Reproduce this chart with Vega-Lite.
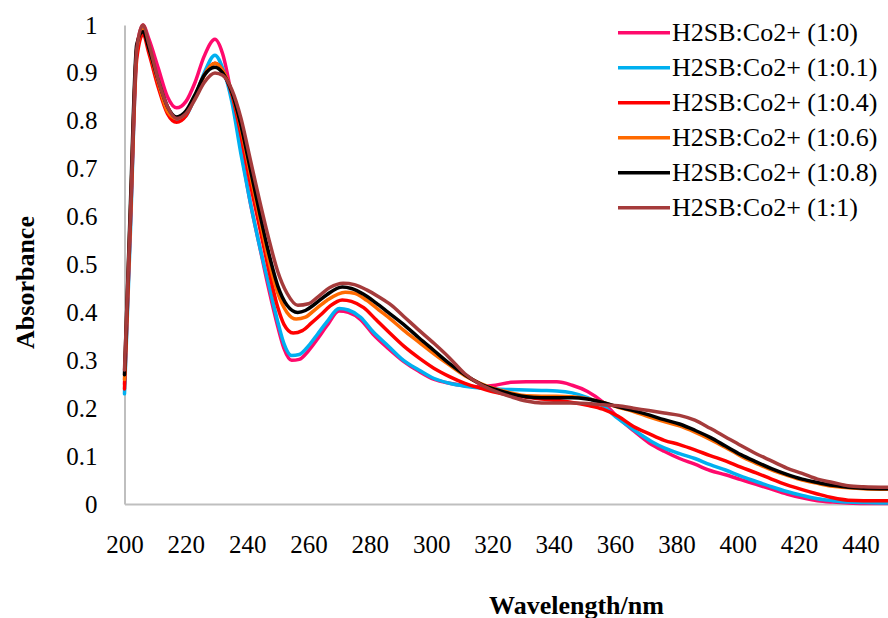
{
"$schema":"https://vega.github.io/schema/vega-lite/v6.json",
"width":763.5,"height":479,
"autosize":{"type":"none"},
"padding":{"left":124.5,"top":25,"right":0,"bottom":114},
"background":"white",
"config":{"view":{"stroke":null}},
"datasets":{"spectra":[
{"c":"1:0","w":200,"a":0.25},{"c":"1:0","w":202,"a":0.6},{"c":"1:0","w":204,"a":0.95},{"c":"1:0","w":206,"a":1.0},{"c":"1:0","w":208,"a":0.97},{"c":"1:0","w":211,"a":0.91},{"c":"1:0","w":214,"a":0.85},{"c":"1:0","w":217,"a":0.827},{"c":"1:0","w":220,"a":0.84},{"c":"1:0","w":223,"a":0.88},{"c":"1:0","w":226,"a":0.935},{"c":"1:0","w":229.5,"a":0.97},{"c":"1:0","w":232,"a":0.94},{"c":"1:0","w":235,"a":0.85},{"c":"1:0","w":238,"a":0.74},{"c":"1:0","w":241,"a":0.63},{"c":"1:0","w":244,"a":0.54},{"c":"1:0","w":247,"a":0.45},{"c":"1:0","w":250,"a":0.37},{"c":"1:0","w":252,"a":0.325},{"c":"1:0","w":254.5,"a":0.3},{"c":"1:0","w":257,"a":0.302},{"c":"1:0","w":260,"a":0.32},{"c":"1:0","w":263,"a":0.345},{"c":"1:0","w":266,"a":0.372},{"c":"1:0","w":270,"a":0.403},{"c":"1:0","w":273,"a":0.4},{"c":"1:0","w":277,"a":0.385},{"c":"1:0","w":281,"a":0.355},{"c":"1:0","w":286,"a":0.325},{"c":"1:0","w":291,"a":0.298},{"c":"1:0","w":296,"a":0.277},{"c":"1:0","w":301,"a":0.26},{"c":"1:0","w":306,"a":0.252},{"c":"1:0","w":311,"a":0.247},{"c":"1:0","w":316,"a":0.245},{"c":"1:0","w":321,"a":0.248},{"c":"1:0","w":326,"a":0.254},{"c":"1:0","w":331,"a":0.255},{"c":"1:0","w":336,"a":0.255},{"c":"1:0","w":341,"a":0.255},{"c":"1:0","w":346,"a":0.248},{"c":"1:0","w":351,"a":0.235},{"c":"1:0","w":356,"a":0.213},{"c":"1:0","w":361,"a":0.18},{"c":"1:0","w":366,"a":0.153},{"c":"1:0","w":371,"a":0.128},{"c":"1:0","w":376,"a":0.11},{"c":"1:0","w":381,"a":0.095},{"c":"1:0","w":386,"a":0.083},{"c":"1:0","w":391,"a":0.07},{"c":"1:0","w":396,"a":0.061},{"c":"1:0","w":401,"a":0.051},{"c":"1:0","w":406,"a":0.041},{"c":"1:0","w":411,"a":0.031},{"c":"1:0","w":416,"a":0.021},{"c":"1:0","w":421,"a":0.013},{"c":"1:0","w":426,"a":0.007},{"c":"1:0","w":431,"a":0.004},{"c":"1:0","w":436,"a":0.002},{"c":"1:0","w":441,"a":0.001},{"c":"1:0","w":449,"a":0.001},
{"c":"1:0.1","w":200,"a":0.23},{"c":"1:0.1","w":202,"a":0.58},{"c":"1:0.1","w":204,"a":0.94},{"c":"1:0.1","w":206,"a":0.99},{"c":"1:0.1","w":208,"a":0.95},{"c":"1:0.1","w":211,"a":0.88},{"c":"1:0.1","w":214,"a":0.82},{"c":"1:0.1","w":217,"a":0.8},{"c":"1:0.1","w":220,"a":0.81},{"c":"1:0.1","w":223,"a":0.85},{"c":"1:0.1","w":226,"a":0.9},{"c":"1:0.1","w":229.5,"a":0.937},{"c":"1:0.1","w":232,"a":0.91},{"c":"1:0.1","w":235,"a":0.84},{"c":"1:0.1","w":238,"a":0.73},{"c":"1:0.1","w":241,"a":0.63},{"c":"1:0.1","w":244,"a":0.54},{"c":"1:0.1","w":247,"a":0.46},{"c":"1:0.1","w":250,"a":0.38},{"c":"1:0.1","w":252,"a":0.335},{"c":"1:0.1","w":254.5,"a":0.31},{"c":"1:0.1","w":257,"a":0.312},{"c":"1:0.1","w":260,"a":0.33},{"c":"1:0.1","w":263,"a":0.355},{"c":"1:0.1","w":266,"a":0.38},{"c":"1:0.1","w":270,"a":0.408},{"c":"1:0.1","w":273,"a":0.405},{"c":"1:0.1","w":277,"a":0.39},{"c":"1:0.1","w":281,"a":0.36},{"c":"1:0.1","w":286,"a":0.33},{"c":"1:0.1","w":291,"a":0.3},{"c":"1:0.1","w":296,"a":0.28},{"c":"1:0.1","w":301,"a":0.262},{"c":"1:0.1","w":306,"a":0.252},{"c":"1:0.1","w":311,"a":0.246},{"c":"1:0.1","w":316,"a":0.242},{"c":"1:0.1","w":321,"a":0.24},{"c":"1:0.1","w":326,"a":0.239},{"c":"1:0.1","w":331,"a":0.238},{"c":"1:0.1","w":336,"a":0.237},{"c":"1:0.1","w":341,"a":0.236},{"c":"1:0.1","w":346,"a":0.232},{"c":"1:0.1","w":351,"a":0.222},{"c":"1:0.1","w":356,"a":0.205},{"c":"1:0.1","w":361,"a":0.178},{"c":"1:0.1","w":366,"a":0.155},{"c":"1:0.1","w":372,"a":0.13},{"c":"1:0.1","w":376,"a":0.117},{"c":"1:0.1","w":381,"a":0.105},{"c":"1:0.1","w":386,"a":0.095},{"c":"1:0.1","w":391,"a":0.082},{"c":"1:0.1","w":396,"a":0.071},{"c":"1:0.1","w":401,"a":0.058},{"c":"1:0.1","w":406,"a":0.047},{"c":"1:0.1","w":411,"a":0.036},{"c":"1:0.1","w":416,"a":0.026},{"c":"1:0.1","w":421,"a":0.018},{"c":"1:0.1","w":426,"a":0.011},{"c":"1:0.1","w":431,"a":0.007},{"c":"1:0.1","w":436,"a":0.004},{"c":"1:0.1","w":441,"a":0.003},{"c":"1:0.1","w":449,"a":0.002},
{"c":"1:0.4","w":200,"a":0.24},{"c":"1:0.4","w":202,"a":0.6},{"c":"1:0.4","w":204,"a":0.93},{"c":"1:0.4","w":206,"a":0.98},{"c":"1:0.4","w":208,"a":0.94},{"c":"1:0.4","w":211,"a":0.87},{"c":"1:0.4","w":214,"a":0.815},{"c":"1:0.4","w":217,"a":0.797},{"c":"1:0.4","w":220,"a":0.81},{"c":"1:0.4","w":223,"a":0.85},{"c":"1:0.4","w":226,"a":0.895},{"c":"1:0.4","w":229.5,"a":0.92},{"c":"1:0.4","w":232,"a":0.905},{"c":"1:0.4","w":235,"a":0.855},{"c":"1:0.4","w":238,"a":0.77},{"c":"1:0.4","w":241,"a":0.67},{"c":"1:0.4","w":244,"a":0.58},{"c":"1:0.4","w":247,"a":0.49},{"c":"1:0.4","w":250,"a":0.41},{"c":"1:0.4","w":252,"a":0.375},{"c":"1:0.4","w":255,"a":0.357},{"c":"1:0.4","w":258,"a":0.362},{"c":"1:0.4","w":261,"a":0.378},{"c":"1:0.4","w":264,"a":0.395},{"c":"1:0.4","w":267,"a":0.413},{"c":"1:0.4","w":271,"a":0.426},{"c":"1:0.4","w":274,"a":0.423},{"c":"1:0.4","w":278,"a":0.41},{"c":"1:0.4","w":282,"a":0.385},{"c":"1:0.4","w":286,"a":0.36},{"c":"1:0.4","w":291,"a":0.33},{"c":"1:0.4","w":296,"a":0.305},{"c":"1:0.4","w":301,"a":0.283},{"c":"1:0.4","w":306,"a":0.266},{"c":"1:0.4","w":311,"a":0.252},{"c":"1:0.4","w":316,"a":0.242},{"c":"1:0.4","w":321,"a":0.233},{"c":"1:0.4","w":326,"a":0.227},{"c":"1:0.4","w":331,"a":0.223},{"c":"1:0.4","w":336,"a":0.219},{"c":"1:0.4","w":341,"a":0.216},{"c":"1:0.4","w":346,"a":0.212},{"c":"1:0.4","w":351,"a":0.206},{"c":"1:0.4","w":356,"a":0.198},{"c":"1:0.4","w":361,"a":0.183},{"c":"1:0.4","w":366,"a":0.162},{"c":"1:0.4","w":371,"a":0.147},{"c":"1:0.4","w":376,"a":0.133},{"c":"1:0.4","w":381,"a":0.124},{"c":"1:0.4","w":386,"a":0.113},{"c":"1:0.4","w":391,"a":0.101},{"c":"1:0.4","w":396,"a":0.09},{"c":"1:0.4","w":401,"a":0.077},{"c":"1:0.4","w":406,"a":0.065},{"c":"1:0.4","w":411,"a":0.052},{"c":"1:0.4","w":416,"a":0.04},{"c":"1:0.4","w":421,"a":0.03},{"c":"1:0.4","w":426,"a":0.021},{"c":"1:0.4","w":431,"a":0.013},{"c":"1:0.4","w":436,"a":0.008},{"c":"1:0.4","w":441,"a":0.007},{"c":"1:0.4","w":449,"a":0.007},
{"c":"1:0.6","w":200,"a":0.26},{"c":"1:0.6","w":202,"a":0.62},{"c":"1:0.6","w":204,"a":0.95},{"c":"1:0.6","w":206,"a":0.99},{"c":"1:0.6","w":208,"a":0.95},{"c":"1:0.6","w":211,"a":0.88},{"c":"1:0.6","w":214,"a":0.82},{"c":"1:0.6","w":217,"a":0.805},{"c":"1:0.6","w":220,"a":0.815},{"c":"1:0.6","w":223,"a":0.85},{"c":"1:0.6","w":226,"a":0.895},{"c":"1:0.6","w":229.5,"a":0.92},{"c":"1:0.6","w":232,"a":0.905},{"c":"1:0.6","w":235,"a":0.86},{"c":"1:0.6","w":238,"a":0.785},{"c":"1:0.6","w":241,"a":0.69},{"c":"1:0.6","w":244,"a":0.6},{"c":"1:0.6","w":247,"a":0.51},{"c":"1:0.6","w":250,"a":0.44},{"c":"1:0.6","w":253,"a":0.4},{"c":"1:0.6","w":256,"a":0.386},{"c":"1:0.6","w":259,"a":0.39},{"c":"1:0.6","w":262,"a":0.405},{"c":"1:0.6","w":266,"a":0.425},{"c":"1:0.6","w":272,"a":0.442},{"c":"1:0.6","w":275,"a":0.44},{"c":"1:0.6","w":279,"a":0.425},{"c":"1:0.6","w":283,"a":0.405},{"c":"1:0.6","w":287,"a":0.385},{"c":"1:0.6","w":291,"a":0.363},{"c":"1:0.6","w":296,"a":0.338},{"c":"1:0.6","w":301,"a":0.313},{"c":"1:0.6","w":306,"a":0.29},{"c":"1:0.6","w":311,"a":0.268},{"c":"1:0.6","w":316,"a":0.252},{"c":"1:0.6","w":321,"a":0.24},{"c":"1:0.6","w":326,"a":0.232},{"c":"1:0.6","w":331,"a":0.226},{"c":"1:0.6","w":336,"a":0.225},{"c":"1:0.6","w":341,"a":0.225},{"c":"1:0.6","w":346,"a":0.224},{"c":"1:0.6","w":351,"a":0.22},{"c":"1:0.6","w":356,"a":0.212},{"c":"1:0.6","w":361,"a":0.202},{"c":"1:0.6","w":366,"a":0.193},{"c":"1:0.6","w":371,"a":0.182},{"c":"1:0.6","w":376,"a":0.172},{"c":"1:0.6","w":381,"a":0.163},{"c":"1:0.6","w":386,"a":0.15},{"c":"1:0.6","w":391,"a":0.135},{"c":"1:0.6","w":396,"a":0.118},{"c":"1:0.6","w":401,"a":0.1},{"c":"1:0.6","w":406,"a":0.085},{"c":"1:0.6","w":411,"a":0.071},{"c":"1:0.6","w":416,"a":0.06},{"c":"1:0.6","w":421,"a":0.05},{"c":"1:0.6","w":426,"a":0.043},{"c":"1:0.6","w":431,"a":0.037},{"c":"1:0.6","w":436,"a":0.034},{"c":"1:0.6","w":441,"a":0.032},{"c":"1:0.6","w":449,"a":0.031},
{"c":"1:0.8","w":200,"a":0.27},{"c":"1:0.8","w":202,"a":0.64},{"c":"1:0.8","w":204,"a":0.96},{"c":"1:0.8","w":206,"a":0.986},{"c":"1:0.8","w":208,"a":0.95},{"c":"1:0.8","w":211,"a":0.885},{"c":"1:0.8","w":214,"a":0.83},{"c":"1:0.8","w":217,"a":0.808},{"c":"1:0.8","w":220,"a":0.82},{"c":"1:0.8","w":223,"a":0.855},{"c":"1:0.8","w":226,"a":0.895},{"c":"1:0.8","w":229.5,"a":0.912},{"c":"1:0.8","w":232,"a":0.9},{"c":"1:0.8","w":235,"a":0.86},{"c":"1:0.8","w":238,"a":0.79},{"c":"1:0.8","w":241,"a":0.7},{"c":"1:0.8","w":244,"a":0.61},{"c":"1:0.8","w":247,"a":0.525},{"c":"1:0.8","w":250,"a":0.455},{"c":"1:0.8","w":253,"a":0.415},{"c":"1:0.8","w":256.5,"a":0.4},{"c":"1:0.8","w":259,"a":0.404},{"c":"1:0.8","w":262,"a":0.417},{"c":"1:0.8","w":266,"a":0.437},{"c":"1:0.8","w":271,"a":0.453},{"c":"1:0.8","w":274,"a":0.45},{"c":"1:0.8","w":278,"a":0.438},{"c":"1:0.8","w":282,"a":0.42},{"c":"1:0.8","w":286,"a":0.4},{"c":"1:0.8","w":291,"a":0.375},{"c":"1:0.8","w":296,"a":0.347},{"c":"1:0.8","w":301,"a":0.32},{"c":"1:0.8","w":306,"a":0.293},{"c":"1:0.8","w":311,"a":0.27},{"c":"1:0.8","w":316,"a":0.251},{"c":"1:0.8","w":321,"a":0.239},{"c":"1:0.8","w":326,"a":0.23},{"c":"1:0.8","w":331,"a":0.224},{"c":"1:0.8","w":336,"a":0.222},{"c":"1:0.8","w":341,"a":0.222},{"c":"1:0.8","w":346,"a":0.222},{"c":"1:0.8","w":351,"a":0.219},{"c":"1:0.8","w":356,"a":0.212},{"c":"1:0.8","w":361,"a":0.203},{"c":"1:0.8","w":366,"a":0.195},{"c":"1:0.8","w":371,"a":0.186},{"c":"1:0.8","w":376,"a":0.176},{"c":"1:0.8","w":381,"a":0.167},{"c":"1:0.8","w":386,"a":0.154},{"c":"1:0.8","w":391,"a":0.139},{"c":"1:0.8","w":396,"a":0.121},{"c":"1:0.8","w":401,"a":0.103},{"c":"1:0.8","w":406,"a":0.088},{"c":"1:0.8","w":411,"a":0.074},{"c":"1:0.8","w":416,"a":0.062},{"c":"1:0.8","w":421,"a":0.052},{"c":"1:0.8","w":426,"a":0.045},{"c":"1:0.8","w":431,"a":0.039},{"c":"1:0.8","w":436,"a":0.035},{"c":"1:0.8","w":441,"a":0.033},{"c":"1:0.8","w":449,"a":0.032},
{"c":"1:1","w":200,"a":0.28},{"c":"1:1","w":202,"a":0.62},{"c":"1:1","w":204,"a":0.95},{"c":"1:1","w":206,"a":1.0},{"c":"1:1","w":208,"a":0.96},{"c":"1:1","w":211,"a":0.885},{"c":"1:1","w":214,"a":0.83},{"c":"1:1","w":217,"a":0.805},{"c":"1:1","w":220,"a":0.815},{"c":"1:1","w":223,"a":0.845},{"c":"1:1","w":226,"a":0.88},{"c":"1:1","w":229.5,"a":0.9},{"c":"1:1","w":232,"a":0.895},{"c":"1:1","w":235,"a":0.865},{"c":"1:1","w":238,"a":0.805},{"c":"1:1","w":241,"a":0.72},{"c":"1:1","w":244,"a":0.635},{"c":"1:1","w":247,"a":0.555},{"c":"1:1","w":250,"a":0.485},{"c":"1:1","w":253,"a":0.44},{"c":"1:1","w":256.5,"a":0.415},{"c":"1:1","w":260,"a":0.418},{"c":"1:1","w":263,"a":0.432},{"c":"1:1","w":267,"a":0.452},{"c":"1:1","w":271.3,"a":0.461},{"c":"1:1","w":275,"a":0.458},{"c":"1:1","w":279,"a":0.447},{"c":"1:1","w":283,"a":0.432},{"c":"1:1","w":287,"a":0.415},{"c":"1:1","w":291,"a":0.392},{"c":"1:1","w":296,"a":0.363},{"c":"1:1","w":301,"a":0.335},{"c":"1:1","w":306,"a":0.305},{"c":"1:1","w":311,"a":0.272},{"c":"1:1","w":316,"a":0.25},{"c":"1:1","w":321,"a":0.235},{"c":"1:1","w":326,"a":0.224},{"c":"1:1","w":331,"a":0.215},{"c":"1:1","w":336,"a":0.211},{"c":"1:1","w":341,"a":0.211},{"c":"1:1","w":346,"a":0.211},{"c":"1:1","w":351,"a":0.21},{"c":"1:1","w":356,"a":0.207},{"c":"1:1","w":361,"a":0.205},{"c":"1:1","w":366,"a":0.2},{"c":"1:1","w":371,"a":0.195},{"c":"1:1","w":376,"a":0.19},{"c":"1:1","w":381,"a":0.185},{"c":"1:1","w":386,"a":0.175},{"c":"1:1","w":391,"a":0.158},{"c":"1:1","w":396,"a":0.14},{"c":"1:1","w":401,"a":0.122},{"c":"1:1","w":406,"a":0.105},{"c":"1:1","w":411,"a":0.09},{"c":"1:1","w":416,"a":0.075},{"c":"1:1","w":421,"a":0.064},{"c":"1:1","w":426,"a":0.052},{"c":"1:1","w":431,"a":0.045},{"c":"1:1","w":436,"a":0.038},{"c":"1:1","w":441,"a":0.036},{"c":"1:1","w":449,"a":0.035}
]},
"data":{"name":"spectra"},
"mark":{"type":"line","interpolate":"monotone","strokeWidth":3.5,"strokeCap":"round","strokeJoin":"round"},
"encoding":{
"x":{"field":"w","type":"quantitative","scale":{"domain":[200,449],"nice":false,"zero":false},
"axis":{"values":[200,220,240,260,280,300,320,340,360,380,400,420,440],"grid":false,"ticks":false,"domainColor":"#BFBFBF","domainWidth":2,"labelFont":"Liberation Serif","labelFontSize":25,"labelColor":"black","labelPadding":28,"labelBaseline":"top","labelFlush":false,"labelOverlap":false,
"title":"Wavelength/nm","titleFont":"Liberation Serif","titleFontSize":26,"titleFontWeight":"bold","titleColor":"black","titleX":451.5,"titleY":109,"titleAlign":"center","titleBaseline":"alphabetic"}},
"y":{"field":"a","type":"quantitative","scale":{"domain":[0,1],"nice":false},
"axis":{"values":[0,0.1,0.2,0.3,0.4,0.5,0.6,0.7,0.8,0.9,1],"format":"~g","grid":false,"ticks":false,"domainColor":"#BFBFBF","domainWidth":2,"labelFont":"Liberation Serif","labelFontSize":25,"labelColor":"black","labelPadding":27.5,"labelFlush":false,"labelOverlap":false,
"title":"Absorbance","titleFont":"Liberation Serif","titleFontSize":26,"titleFontWeight":"bold","titleColor":"black","titleAngle":270,"titleX":-91.5,"titleY":257,"titleAlign":"center","titleBaseline":"alphabetic"}},
"color":{"field":"c","type":"nominal","sort":null,
"scale":{"domain":["1:0","1:0.1","1:0.4","1:0.6","1:0.8","1:1"],"range":["#FF0A6C","#00B0F0","#FF0000","#FF6A00","#000000","#A53B3B"]},
"legend":{"orient":"none","legendX":491.5,"legendY":-9.7,"title":null,"padding":0,"symbolType":"stroke","symbolSize":2704,"symbolStrokeWidth":3.5,"clipHeight":34.8,"labelFont":"Liberation Serif","labelFontSize":26,"labelColor":"black","labelOffset":0,"rowPadding":0,"labelLimit":400,"labelExpr":"'H2SB:Co2+ (' + datum.label + ')'"}}
}
}
